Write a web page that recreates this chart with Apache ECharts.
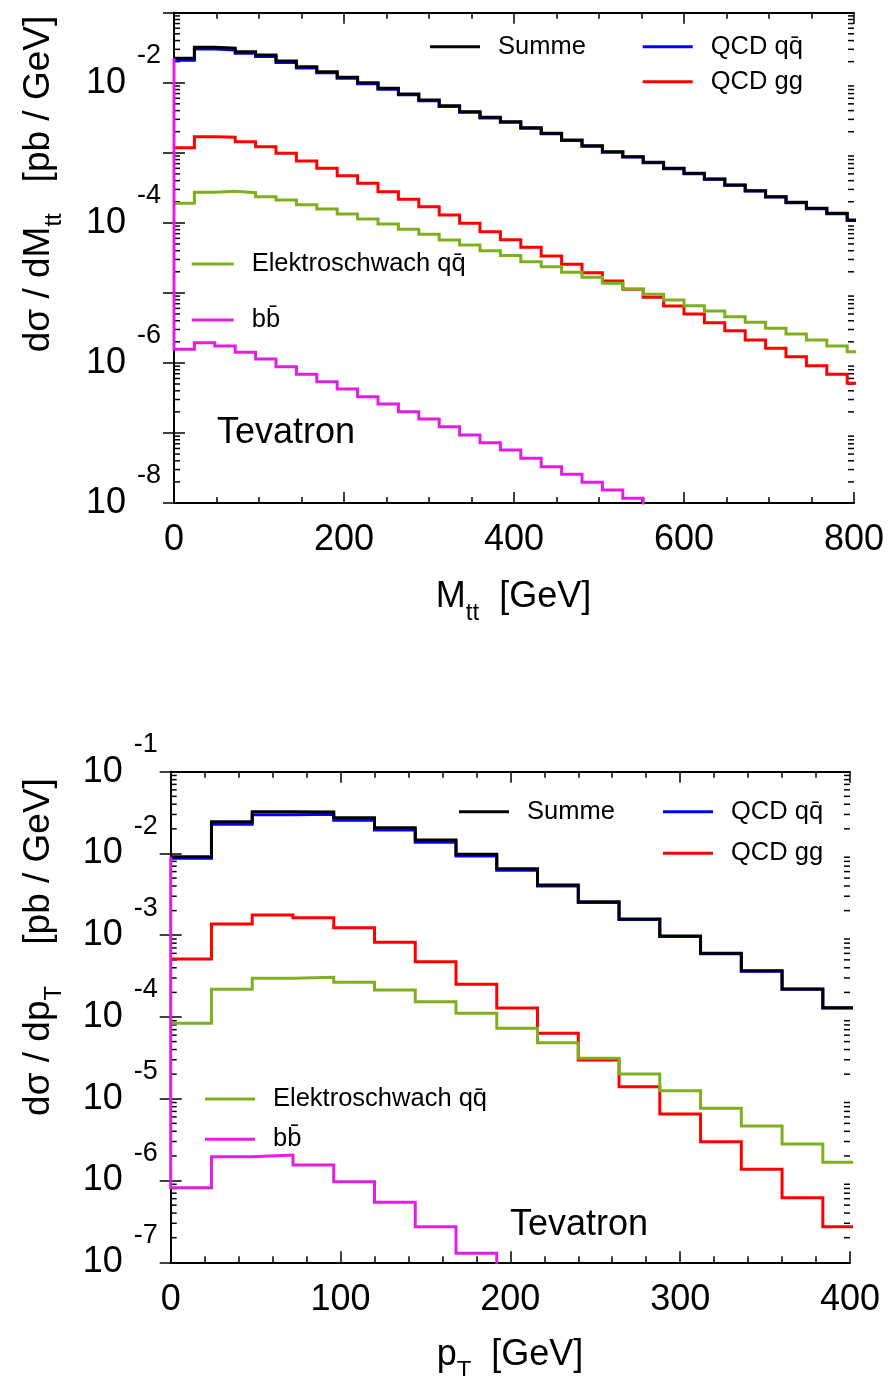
<!DOCTYPE html>
<html><head><meta charset="utf-8">
<script src="https://cdn.jsdelivr.net/npm/echarts@6/dist/echarts.min.js"></script>
<style>html,body{margin:0;padding:0;background:#fff}#c{width:888px;height:1376px}</style>
</head><body><div id="c"></div>
<script>
// ---------- DATA (values given as log10 of dσ/dx in pb/GeV) ----------
// Top panel: M_tt, 24 GeV bins
const massBinLow = [0,24,48,72,96,120,144,168,192,216,240,264,288,312,336,360,384,408,432,456,480,504,528,552,576,600,624,648,672,696,720,744,768,792];
const massSumExp = [-1.651,-1.494,-1.508,-1.557,-1.604,-1.690,-1.771,-1.842,-1.922,-2.000,-2.079,-2.161,-2.246,-2.328,-2.413,-2.494,-2.556,-2.642,-2.722,-2.818,-2.899,-2.985,-3.056,-3.136,-3.222,-3.293,-3.374,-3.460,-3.541,-3.627,-3.707,-3.793,-3.864,-3.960];
const massQqExp  = [-1.679,-1.519,-1.533,-1.580,-1.626,-1.710,-1.789,-1.859,-1.937,-2.014,-2.092,-2.173,-2.257,-2.338,-2.422,-2.502,-2.564,-2.649,-2.729,-2.824,-2.905,-2.991,-3.061,-3.141,-3.227,-3.298,-3.379,-3.465,-3.546,-3.632,-3.712,-3.798,-3.869,-3.965];
const massGgExp  = [-2.927,-2.770,-2.779,-2.842,-2.913,-3.008,-3.117,-3.222,-3.327,-3.436,-3.556,-3.664,-3.770,-3.888,-4.007,-4.127,-4.240,-4.350,-4.474,-4.592,-4.712,-4.831,-4.949,-5.064,-5.188,-5.302,-5.426,-5.540,-5.673,-5.792,-5.911,-6.040,-6.163,-6.291];
const massEwExp  = [-3.722,-3.565,-3.550,-3.570,-3.627,-3.674,-3.741,-3.803,-3.874,-3.945,-4.017,-4.093,-4.164,-4.245,-4.317,-4.398,-4.466,-4.555,-4.626,-4.707,-4.778,-4.864,-4.945,-5.021,-5.102,-5.183,-5.259,-5.340,-5.421,-5.506,-5.587,-5.673,-5.759,-5.840];
const massBbExp  = [-5.806,-5.711,-5.759,-5.849,-5.944,-6.054,-6.163,-6.268,-6.373,-6.483,-6.587,-6.697,-6.801,-6.911,-7.030,-7.139,-7.243,-7.362,-7.482,-7.591,-7.705,-7.815,-7.933,-8.060];
// Bottom panel: p_T, 24 GeV bins
const ptBinLow = [0,24,48,72,96,120,144,168,192,216,240,264,288,312,336,360,384];
const ptSumExp = [-2.039,-1.611,-1.490,-1.493,-1.562,-1.685,-1.835,-2.010,-2.188,-2.386,-2.590,-2.801,-3.009,-3.221,-3.434,-3.657,-3.886];
const ptQqExp  = [-2.059,-1.644,-1.527,-1.520,-1.595,-1.713,-1.863,-2.030,-2.204,-2.398,-2.600,-2.809,-3.015,-3.227,-3.439,-3.662,-3.890];
const ptGgExp  = [-3.291,-2.863,-2.753,-2.785,-2.907,-3.087,-3.323,-3.600,-3.890,-4.199,-4.526,-4.852,-5.186,-5.525,-5.862,-6.210,-6.564];
const ptEwExp  = [-4.077,-3.661,-3.527,-3.515,-3.576,-3.670,-3.813,-3.955,-4.138,-4.314,-4.505,-4.697,-4.901,-5.117,-5.333,-5.553,-5.777];
const ptBbExp  = [-6.087,-5.708,-5.688,-5.810,-6.014,-6.266,-6.564,-6.890,-7.080];
const binWidth = 24;
// axis ranges
const massYRangeExp = [-8,-1];
const ptYRangeExp = [-7,-1];
const names = {sum:'Summe', qq:'QCD qq\u0304', gg:'QCD gg', ew:'Elektroschwach qq\u0304', bb:'bb\u0304'};
const colors = {sum:'#000000', qq:'#0000ff', gg:'#ff0000', ew:'#7cb01f', bb:'#e21ee2'};

// ---------- HELPERS ----------
const FONT = '"Liberation Sans", Arial, Helvetica, sans-serif';
const pw = e => Math.pow(10, e);
function stepData(edges, exps, lead) {
  const pts = [];
  if (lead != null) pts.push([edges[0], pw(lead)]);
  exps.forEach((e, i) => pts.push([edges[i], pw(e)]));
  pts.push([edges[exps.length - 1] + binWidth, pw(exps[exps.length - 1])]);
  return pts;
}
function hist(key, edges, exps, gi, lead) {
  return {
    type: 'line', name: names[key], xAxisIndex: gi * 2, yAxisIndex: gi * 2,
    step: 'end', showSymbol: false, symbol: 'none', clip: true, animation: false,
    color: colors[key], lineStyle: {color: colors[key], width: 3, join: 'miter'},
    data: stepData(edges, exps, lead)
  };
}
function xAxes(gi, max, interval, minorSplit, margin) {
  const base = {
    type: 'value', gridIndex: gi, min: 0, max: max, interval: interval,
    axisLine: {show: true, lineStyle: {color: '#000', width: 2}},
    axisTick: {show: true, inside: true, length: 11, lineStyle: {color: '#000', width: 1.5}},
    minorTick: {show: true, splitNumber: minorSplit, length: 6, lineStyle: {color: '#000', width: 1.5}},
    splitLine: {show: false}, minorSplitLine: {show: false}
  };
  return [
    Object.assign({}, base, {position: 'bottom', axisLabel: {show: true, fontSize: 36, fontFamily: FONT, color: '#000', margin: margin}}),
    Object.assign({}, base, {position: 'top', axisLabel: {show: false}})
  ];
}
function yAxes(gi, rng, labelStep) {
  const base = {
    type: 'log', logBase: 10, gridIndex: gi, min: pw(rng[0]), max: pw(rng[1]), interval: 1,
    axisLine: {show: true, lineStyle: {color: '#000', width: 2}},
    axisTick: {show: true, inside: true, length: 11, lineStyle: {color: '#000', width: 1.5}},
    splitLine: {show: false}
  };
  return [
    Object.assign({}, base, {position: 'left', axisLabel: {
      show: true, margin: 13, color: '#000', fontFamily: FONT,
      formatter: v => { const e = Math.round(Math.log10(v)); if (e % labelStep) return ''; return '{b|10}{e|' + e + '}'; },
      rich: {
        b: {fontSize: 36, fontFamily: FONT, color: '#000', lineHeight: 36, verticalAlign: 'middle'},
        e: {fontSize: 27, fontFamily: FONT, color: '#000', lineHeight: 27, padding: [0, 0, 54, 11], verticalAlign: 'middle'}
      }}}),
    Object.assign({}, base, {position: 'right', axisLabel: {show: false}})
  ];
}
function minorTicks(gi, rng, xmax) {
  const vals = [];
  for (let k = rng[0]; k < rng[1]; k++) for (let m = 2; m <= 9; m++) vals.push([0, m * pw(k)]);
  return {
    type: 'custom', xAxisIndex: gi * 2, yAxisIndex: gi * 2, silent: true, animation: false, clip: false,
    encode: {x: 0, y: 1}, data: vals,
    renderItem: (params, api) => {
      const v = api.value(1);
      const l = api.coord([0, v]), r = api.coord([xmax, v]);
      const st = {stroke: '#000', lineWidth: 1.5};
      return {type: 'group', children: [
        {type: 'line', shape: {x1: l[0], y1: l[1], x2: l[0] + 6, y2: l[1]}, style: st},
        {type: 'line', shape: {x1: r[0] - 6, y1: r[1], x2: r[0], y2: r[1]}, style: st}
      ]};
    }
  };
}
const legendBase = {orient: 'vertical', icon: 'rect', itemWidth: 50, itemHeight: 3, padding: 0, selectedMode: false,
  textStyle: {fontSize: 25.5, fontFamily: FONT, color: '#000', lineHeight: 26, padding: [0, 0, 0, 13]}};
const lg = (o) => Object.assign({}, legendBase, o);
function titleRich(fs) {
  return {
    m: {fontSize: fs, fontFamily: FONT, fill: '#000', lineHeight: 40, verticalAlign: 'top'},
    s: {fontSize: 24, fontFamily: FONT, fill: '#000', lineHeight: 28, padding: [22, 0, 0, 0], verticalAlign: 'top'}
  };
}
function gtext(x, y, text, rot, fs) {
  return {type: 'text', x: x, y: y, rotation: rot || 0, silent: true,
    style: {text: text, rich: titleRich(fs || 36), fontSize: fs || 36, fontFamily: FONT, fill: '#000', align: 'center', verticalAlign: 'middle', textAlign: 'center', textVerticalAlign: 'middle'}};
}

// ---------- CHART ----------
const chart = echarts.init(document.getElementById('c'), null, {renderer: 'canvas'});
const option = {
  animation: false,
  backgroundColor: '#fff',
  grid: [
    {left: 174, top: 12.7, width: 680, height: 490.3, show: false},
    {left: 170.7, top: 771.7, width: 679.3, height: 490.6, show: false}
  ],
  xAxis: [].concat(xAxes(0, 800, 200, 4, 19), xAxes(1, 400, 100, 5, 20)),
  yAxis: [].concat(yAxes(0, massYRangeExp, 2), yAxes(1, ptYRangeExp, 1)),
  legend: [
    lg({data: [names.sum], left: 430, top: 33.7}),
    lg({data: [names.qq, names.gg], left: 642.7, top: 33.7, itemGap: 9}),
    lg({data: [names.ew, names.bb], left: 191.7, top: 251, itemGap: 30, itemWidth: 42}),
    lg({data: [names.sum], left: 459, top: 798.7}),
    lg({data: [names.qq, names.gg], left: 663, top: 798.7, itemGap: 15.6}),
    lg({data: [names.ew, names.bb], left: 205, top: 1086, itemGap: 14.3})
  ],
  graphic: [
    gtext(513.5, 599, '{m|M}{s|tt}{m|  [GeV]}'),
    gtext(510, 1357, '{m|p}{s|T}{m|  [GeV]}'),
    gtext(40, 184, '{m|dσ / dM}{s|tt}{m|   [pb / GeV]}', Math.PI / 2, 37),
    gtext(40, 947, '{m|dσ / dp}{s|T}{m|    [pb / GeV]}', Math.PI / 2, 37),
    {type: 'text', x: 217, y: 433, silent: true, style: {text: 'Tevatron', fontSize: 36, fontFamily: FONT, fill: '#000', verticalAlign: 'middle', textVerticalAlign: 'middle'}},
    {type: 'text', x: 510, y: 1225, silent: true, style: {text: 'Tevatron', fontSize: 36, fontFamily: FONT, fill: '#000', verticalAlign: 'middle', textVerticalAlign: 'middle'}}
  ],
  series: [
    minorTicks(0, massYRangeExp, 800),
    minorTicks(1, ptYRangeExp, 400),
    hist('qq', massBinLow, massQqExp, 0),
    hist('gg', massBinLow, massGgExp, 0),
    hist('ew', massBinLow, massEwExp, 0),
    hist('sum', massBinLow, massSumExp, 0),
    hist('bb', massBinLow, massBbExp, 0, massSumExp[0]),
    hist('qq', ptBinLow, ptQqExp, 1),
    hist('gg', ptBinLow, ptGgExp, 1),
    hist('ew', ptBinLow, ptEwExp, 1),
    hist('sum', ptBinLow, ptSumExp, 1),
    hist('bb', ptBinLow, ptBbExp, 1, ptSumExp[0])
  ]
};
chart.setOption(option);
</script></body></html>
